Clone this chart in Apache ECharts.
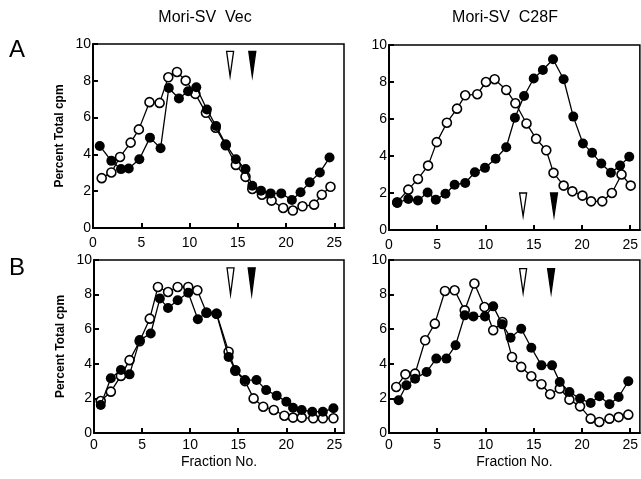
<!DOCTYPE html>
<html>
<head>
<meta charset="utf-8">
<script src="https://cdn.jsdelivr.net/npm/echarts@6/dist/echarts.min.js"></script>
<style>html,body{margin:0;padding:0;background:#fff}#c{width:641px;height:479px}</style>
</head>
<body>
<div id="c"></div>
<script>
// ---- Data ----
const xTicks = [0, 5, 10, 15, 20, 25];
const yTicks = [0, 2, 4, 6, 8, 10];
const panelTitles = ['Mori-SV  Vec', 'Mori-SV  C28F'];
const rowLabels = ['A', 'B'];

// Panel A, Mori-SV Vec
const aVecFilledX = [0.7,1.9,2.9,3.7,4.8,5.9,7.0,7.85,8.9,9.85,10.7,11.8,12.75,13.75,14.8,15.8,16.5,17.4,18.4,19.5,20.6,21.5,22.45,23.5,24.5];
const aVecFilledY = [4.46,3.65,3.2,3.23,3.74,4.91,4.33,7.61,7.04,7.43,7.65,6.44,5.54,4.55,3.74,3.2,2.3,2.03,1.88,1.88,1.52,1.94,2.48,3.02,3.83];
const aVecOpenX = [0.9,1.9,2.8,3.9,4.75,5.85,6.9,7.8,8.7,9.6,10.6,11.7,12.7,13.75,14.8,15.8,16.5,17.5,18.5,19.7,20.7,21.7,22.9,23.7,24.6];
const aVecOpenY = [2.71,3.02,3.86,4.64,5.36,6.84,6.8,8.19,8.48,8.01,7.29,6.26,5.45,4.5,3.43,2.78,2.12,1.81,1.49,1.09,0.95,1.18,1.27,1.81,2.24];

// Panel A, Mori-SV C28F
const aMutFilledX = [0.85,2.0,3.0,4.0,4.85,5.85,6.8,7.9,8.9,9.95,11.05,12.15,13.05,14.0,15.0,15.95,17.0,18.1,19.1,20.1,21.05,22.0,23.0,23.95,24.9];
const aMutFilledY = [1.46,1.68,1.6,2.03,1.64,1.96,2.45,2.54,3.12,3.36,3.85,4.47,6.07,7.24,8.19,8.65,9.23,8.15,6.13,4.68,4.17,3.59,3.09,3.48,3.96];
const aMutOpenX = [0.85,2.0,3.0,4.05,4.95,6.0,7.05,7.9,9.15,10.05,10.95,12.15,13.1,14.25,15.25,16.3,17.05,18.1,19.0,20.05,20.95,22.1,23.1,24.1,25.05];
const aMutOpenY = [1.5,2.18,2.76,3.48,4.75,5.8,6.56,7.28,7.34,8.0,8.15,7.57,6.85,5.76,4.93,4.31,3.09,2.4,2.09,1.86,1.55,1.55,2.0,3.0,2.4];

// Panel B, Mori-SV Vec
const bVecFilledX = [0.7,1.75,2.8,3.7,4.75,5.9,6.85,7.7,8.7,9.8,10.8,11.7,12.75,14.0,14.7,15.7,16.9,17.9,19.0,20.0,20.7,21.6,22.7,23.8,24.9];
const bVecFilledY = [1.62,3.16,3.64,3.39,5.37,5.75,7.77,7.23,7.67,8.11,6.58,6.96,6.88,4.4,3.64,3.06,3.06,2.48,2.16,1.81,1.46,1.33,1.23,1.23,1.43];
const bVecOpenX = [0.7,1.75,2.8,3.7,4.75,5.8,6.65,7.7,8.7,9.8,10.75,11.7,12.75,14.0,14.7,15.7,16.6,17.6,18.7,19.8,20.7,21.6,22.8,23.8,24.9];
const bVecOpenY = [1.85,2.39,3.3,4.21,5.3,6.61,8.44,8.15,8.44,8.44,8.25,6.95,6.9,4.7,3.6,3.0,2.0,1.52,1.33,1.0,0.89,0.89,0.85,0.85,0.85];

// Panel B, Mori-SV C28F
const bMutFilledX = [1.0,1.8,2.7,3.9,4.9,5.95,6.9,7.85,8.75,9.95,10.8,11.75,12.6,13.7,14.75,15.8,16.9,17.7,18.7,19.8,20.9,21.8,22.85,23.8,24.8];
const bMutFilledY = [1.89,2.76,3.14,3.53,4.3,4.3,5.07,6.8,6.74,6.74,7.32,6.28,5.51,6.03,4.93,3.91,3.91,2.95,2.37,1.99,1.73,2.12,1.66,2.08,2.99];
const bMutOpenX = [0.75,1.7,2.7,3.75,4.75,5.8,6.8,7.85,8.85,9.9,10.8,11.75,12.75,13.7,14.75,15.8,16.7,17.7,18.7,19.8,20.9,21.8,22.85,23.8,24.8];
const bMutOpenY = [2.66,3.39,3.43,5.36,6.32,8.21,8.25,7.09,8.64,7.28,5.94,6.42,4.39,3.82,3.28,2.82,2.24,2.57,1.93,1.54,0.83,0.64,0.83,0.92,1.06];

// Arrow markers: fraction position, top value, tip value (open, filled)
const arrowX   = [[14.2, 16.5], [13.9, 17.1], [14.2, 16.4], [13.9, 16.8]];
const arrowTop = [9.6, 2.0, 9.55, 9.5];
const arrowTip = [8.25, 0.75, 8.0, 8.1];

// ---- Build chart ----
const FONT = "'Liberation Sans', Arial, Helvetica, sans-serif";
const grids = [
  {left: 93, top: 44, width: 251, height: 184},
  {left: 389, top: 45, width: 253, height: 185},
  {left: 94, top: 260, width: 250, height: 173},
  {left: 389, top: 260, width: 253, height: 173}
];
const panels = [
  [aVecOpenX, aVecOpenY, aVecFilledX, aVecFilledY],
  [aMutOpenX, aMutOpenY, aMutFilledX, aMutFilledY],
  [bVecOpenX, bVecOpenY, bVecFilledX, bVecFilledY],
  [bMutOpenX, bMutOpenY, bMutFilledX, bMutFilledY]
];
const pairs = (xs, ys) => xs.map((x, i) => [x, ys[i]]);

const xAxes = [], yAxes = [], series = [];
grids.forEach((g, i) => {
  g.show = true; g.borderColor = '#000'; g.borderWidth = 1.5; g.containLabel = false;
  xAxes.push({
    type: 'value', gridIndex: i, min: 0, max: 26,
    name: i >= 2 ? 'Fraction No.' : '', nameLocation: 'middle', nameGap: 22,
    nameTextStyle: {color: '#000', fontSize: 14, fontFamily: FONT},
    axisLine: {lineStyle: {color: '#000', width: 2}},
    axisTick: {inside: true, length: 5, lineStyle: {color: '#000', width: 2}, customValues: xTicks},
    axisLabel: {color: '#000', fontSize: 14, fontFamily: FONT, margin: i >= 2 ? 5 : 8, customValues: xTicks},
    splitLine: {show: false}
  });
  yAxes.push({
    type: 'value', gridIndex: i, min: 0, max: 10, interval: 2,
    name: (i % 2 === 0) ? 'Percent Total cpm' : '', nameLocation: 'middle', nameGap: 27,
    nameTextStyle: {color: '#000', fontSize: 12, fontWeight: 'bold', fontFamily: FONT},
    axisLine: {onZero: false, lineStyle: {color: '#000', width: 2}},
    axisTick: {inside: true, length: 5, lineStyle: {color: '#000', width: 2}},
    axisLabel: {color: '#000', fontSize: 14, fontFamily: FONT, margin: 2},
    splitLine: {show: false}
  });
  const [ox, oy, fx, fy] = panels[i];
  series.push({
    type: 'line', xAxisIndex: i, yAxisIndex: i, data: pairs(ox, oy),
    symbol: 'circle', symbolSize: 9, showSymbol: true, z: 2,
    lineStyle: {color: '#000', width: 1.3},
    itemStyle: {color: '#fff', borderColor: '#000', borderWidth: 1.6},
    animation: false
  });
  series.push({
    type: 'line', xAxisIndex: i, yAxisIndex: i, data: pairs(fx, fy),
    symbol: 'circle', symbolSize: 10, showSymbol: true, z: 3,
    lineStyle: {color: '#000', width: 1.3},
    itemStyle: {color: '#000', borderColor: '#000', borderWidth: 0},
    animation: false
  });
  series.push({
    type: 'custom', xAxisIndex: i, yAxisIndex: i, z: 4, animation: false,
    encode: {x: 0, y: [1, 2]},
    data: arrowX[i].map((x, k) => [x, arrowTop[i], arrowTip[i], k]),
    renderItem: (params, api) => {
      const p1 = api.coord([api.value(0), api.value(1)]);
      const p2 = api.coord([api.value(0), api.value(2)]);
      const filled = api.value(3) === 1;
      return {
        type: 'polygon',
        shape: {points: [[p1[0] - 3.5, p1[1]], [p1[0] + 3.5, p1[1]], [p2[0], p2[1]]]},
        style: {fill: filled ? '#000' : '#fff', stroke: '#000', lineWidth: 1.3}
      };
    }
  });
});

const graphic = [
  {type: 'text', x: 205, y: 18, style: {text: panelTitles[0], font: '16px ' + FONT, fill: '#000', textAlign: 'center', textVerticalAlign: 'middle'}},
  {type: 'text', x: 505, y: 18, style: {text: panelTitles[1], font: '16px ' + FONT, fill: '#000', textAlign: 'center', textVerticalAlign: 'middle'}},
  {type: 'text', x: 17, y: 50, style: {text: rowLabels[0], font: '24px ' + FONT, fill: '#000', textAlign: 'center', textVerticalAlign: 'middle'}},
  {type: 'text', x: 17, y: 268, style: {text: rowLabels[1], font: '24px ' + FONT, fill: '#000', textAlign: 'center', textVerticalAlign: 'middle'}}
];

const chart = echarts.init(document.getElementById('c'), null, {renderer: 'canvas'});
chart.setOption({
  animation: false,
  backgroundColor: '#fff',
  grid: grids, xAxis: xAxes, yAxis: yAxes, series: series, graphic: graphic
});
</script>
</body>
</html>
